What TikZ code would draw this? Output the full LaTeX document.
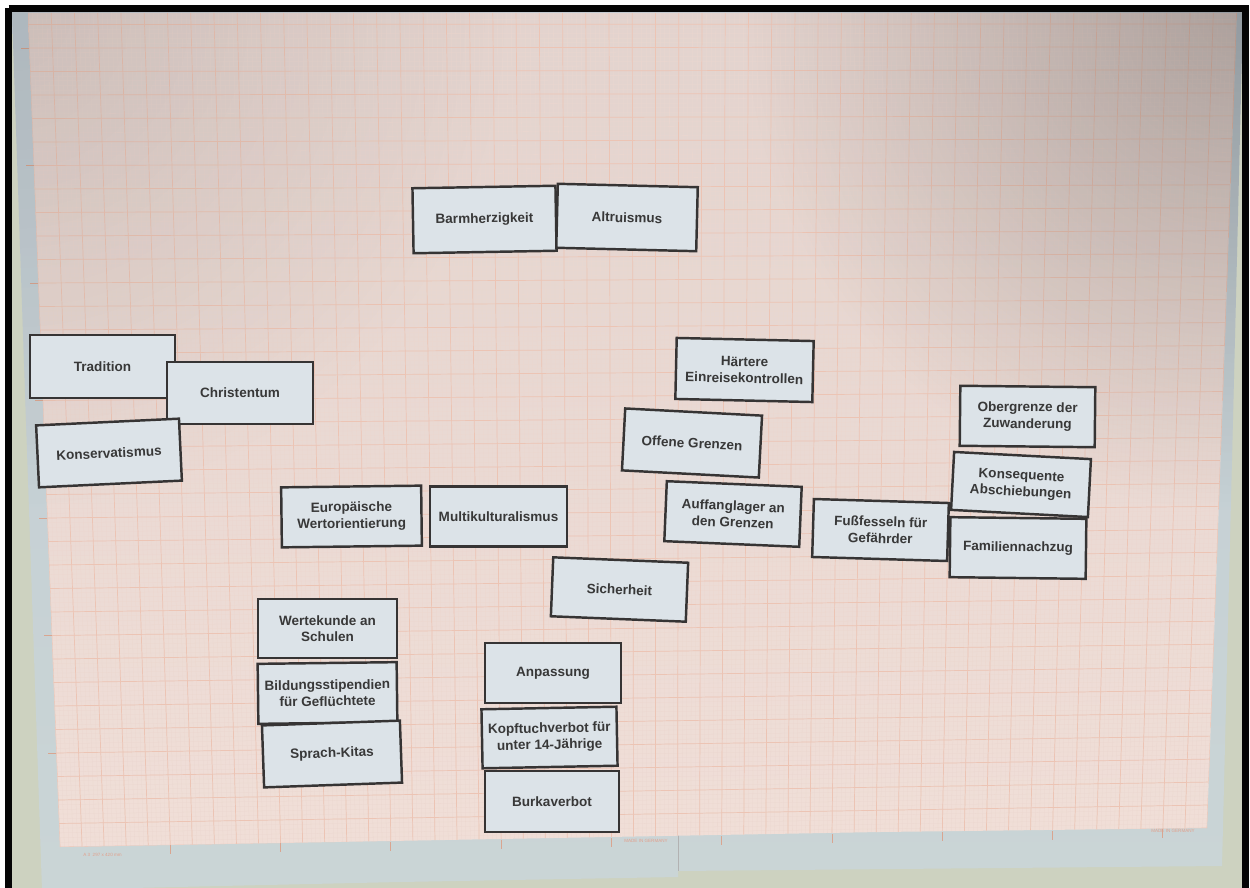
\documentclass[tikz,border=0pt]{standalone}
\usepackage{fontspec}
\setmainfont{Liberation Sans}
\usetikzlibrary{calc,fadings}

\definecolor{wall}{HTML}{CDD2C0}
\definecolor{frame}{HTML}{050505}
\definecolor{cmline}{HTML}{ECC4B4}
\definecolor{mmline}{HTML}{ECD7CF}
\definecolor{tickline}{HTML}{D9A590}
\definecolor{printpink}{HTML}{E2A08C}
\definecolor{cardfill}{HTML}{DCE3E8}
\definecolor{cardline}{HTML}{363434}
\definecolor{cardtext}{HTML}{383838}
\definecolor{marginT}{HTML}{C2CCD3}
\definecolor{marginB}{HTML}{CAD5D6}
\definecolor{gridT}{HTML}{E2D3CE}
\definecolor{gridB}{HTML}{F1DFD8}

\tikzfading[name=cornerfade, inner color=transparent!76, outer color=transparent!100]
\tikzfading[name=softfade, inner color=transparent!90, outer color=transparent!100]

\tikzset{
  card/.style={draw=cardline, fill=cardfill, line width=1.4pt, inner sep=0pt,
    align=center, text=cardtext,
    font=\fontsize{7.7}{9.4}\selectfont\bfseries},
  wh/.style 2 args={minimum width=#1*0.02cm, minimum height=#2*0.02cm},
  cmgrid/.style={draw=cmline, line width=0.4pt},
  mmgrid/.style={draw=mmline, line width=0.15pt},
  tick/.style={draw=tickline, line width=0.5pt},
  tinyprint/.style={text=printpink, font=\fontsize{2.6}{3}\selectfont, inner sep=0pt}
}

\begin{document}
\begin{tikzpicture}[x=0.02cm,y=-0.02cm]
\useasboundingbox (0,0) rectangle (1250,888);
\begin{scope}
\clip (0,0) rectangle (1250,888);
\fill[white] (0,0) rectangle (1250,888);
\fill[wall] (12,12) rectangle (1243,900);

% the sheet of graph paper with its blank margin
\shade[top color=marginT, bottom color=marginB]
  (12,12) -- (1243,12) -- (1222,866) -- (678,871) -- (678,877)
  -- (400,882) -- (42,890) -- cycle;
\draw[gray!60, line width=0.3pt] (678,835) -- (678,871);

% millimetre grid area
\coordinate (VTL) at (27.5,1);
\coordinate (VTR) at (1237,1);
\coordinate (VBL) at (60,847);
\coordinate (VBR) at (1207,828);
\begin{scope}
  \clip (28,13) -- (1237,13) -- (1207,828) -- (880,832) -- (390,841) -- (60,847) -- cycle;
  \shade[top color=gridT, bottom color=gridB] (0,0) rectangle (1250,888);
  \foreach \i in {0,...,259} {
    \draw[mmgrid] ($(VTL)!\i/260!(VTR)$) -- ($(VBL)!\i/260!(VBR)$);
  }
  \foreach \j in {0,...,179} {
    \draw[mmgrid] ($(VTL)!\j/180!(VBL)$) -- ($(VTR)!\j/180!(VBR)$);
  }
  \foreach \i in {0,...,52} {
    \draw[cmgrid] ($(VTL)!\i/52!(VTR)$) -- ($(VBL)!\i/52!(VBR)$);
  }
  \foreach \j in {0,...,36} {
    \draw[cmgrid] ($(VTL)!\j/36!(VBL)$) -- ($(VTR)!\j/36!(VBR)$);
  }
\end{scope}

% 5 cm ticks in the margin
\foreach \i in {5,10,...,50} {
  \draw[tick] ($(VBL)!\i/52!(VBR)$) -- +(0,9);
}
\foreach \j in {2,7,...,32} {
  \draw[tick] ($(VTL)!\j/36!(VBL)$) -- +(-8,0);
}

% print on the margin
\node[tinyprint, anchor=west] (fmt) at (83,855) {A 3\ \ 297 x 420 mm};
\node[tinyprint] (made1) at (646,841) {MADE IN GERMANY};
\node[tinyprint] (made2) at (1173,831) {MADE IN GERMANY};

% darker light in the upper corners
\begin{scope}
  \clip (12,12) -- (1243,12) -- (1222,866) -- (42,890) -- cycle;
  \fill[black, path fading=cornerfade] (743,-488) rectangle (1743,512);
  \fill[black, path fading=softfade] (-488,-488) rectangle (512,512);
\end{scope}

% cards
\node[card, wh={143}{65}, rotate=1]    (barm)  at (484.5,219.5) {Barmherzigkeit};
\node[card, wh={140}{64}, rotate=-1.4] (altr)  at (627,217.5)   {Altruismus};
\node[card, wh={145}{63}]              (trad)  at (102.5,366.5) {Tradition};
\node[card, wh={146}{62}]              (christ) at (240,393)    {Christentum};
\node[card, wh={143}{62}, rotate=2.7]  (kons)  at (109,453)     {Konservatismus};
\node[card, wh={137}{61}, rotate=-1.3] (haert) at (744.5,370)   {Härtere\\Einreisekontrollen};
\node[card, wh={137}{62}, rotate=-3]   (offen) at (692,443)     {Offene Grenzen};
\node[card, wh={135}{60}, rotate=-2.4] (auff)  at (733,514)     {Auffanglager an\\den Grenzen};
\node[card, wh={135}{58}, rotate=-1.7] (fuss)  at (880.5,530)   {Fußfesseln für\\Gefährder};
\node[card, wh={135}{60}, rotate=-0.6] (ober)  at (1027.5,416.5) {Obergrenze der\\Zuwanderung};
\node[card, wh={137}{58}, rotate=-3]   (absch) at (1021,484.5)  {Konsequente\\Abschiebungen};
\node[card, wh={136}{60}, rotate=-0.7] (famil) at (1018,548)    {Familiennachzug};
\node[card, wh={140}{60}, rotate=0.7]  (europ) at (351.5,516.5) {Europäische\\Wertorientierung};
\node[card, wh={137}{60}]              (multi) at (498.5,516.5) {Multikulturalismus};
\node[card, wh={135}{59}, rotate=-2.3] (sich)  at (619.5,589.5) {Sicherheit};
\node[card, wh={139}{59}]              (werte) at (327.5,628.5) {Wertekunde an\\Schulen};
\node[card, wh={139}{60}, rotate=0.7]  (bild)  at (327.5,693)   {Bildungsstipendien\\für Geflüchtete};
\node[card, wh={138}{62}, rotate=2]    (kitas) at (332,754)     {Sprach-Kitas};
\node[card, wh={136}{60}]              (anp)   at (553,673)     {Anpassung};
\node[card, wh={135}{59}, rotate=1.1]  (kopf)  at (549.5,737.5) {Kopftuchverbot für\\unter 14-Jährige};
\node[card, wh={134}{61}]              (burka) at (552,801.5)   {Burkaverbot};

% black photo frame
\draw[frame, line width=0.14cm] (8.5,8.5) -- (8.5,960) (8.5,8.5) -- (1245.5,8.5) -- (1245.5,960);
\end{scope}
\end{tikzpicture}
\end{document}
